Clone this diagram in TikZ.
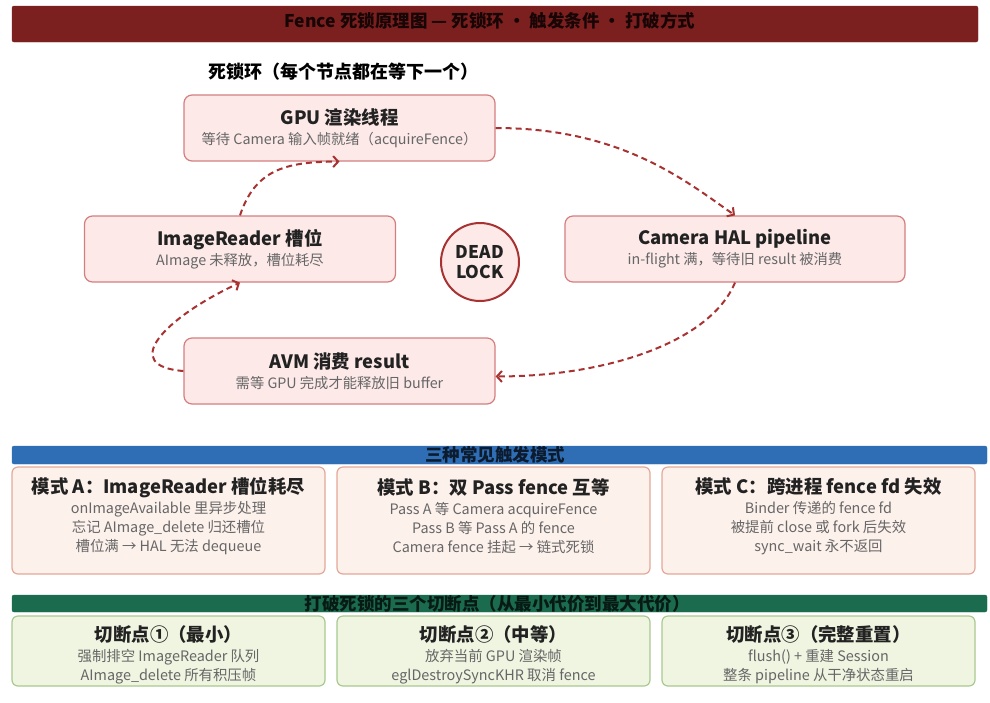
\documentclass[tikz,border=0pt]{standalone}
\usepackage{fontspec}
\setmainfont{Noto Sans CJK SC}
\usepackage{tikz}
\usetikzlibrary{arrows.meta}

\definecolor{bandred}{HTML}{7B1F1F}
\definecolor{bandblue}{HTML}{2F6DB5}
\definecolor{bandgreen}{HTML}{1B6B4F}
\definecolor{lockred}{HTML}{A83232}
\definecolor{pinkfill}{HTML}{FCE9E8}
\definecolor{pinkline}{HTML}{D47F7F}
\definecolor{peachfill}{HTML}{FDF1EC}
\definecolor{peachline}{HTML}{E3A898}
\definecolor{greenfill}{HTML}{EFF5E1}
\definecolor{greenline}{HTML}{A9C98F}
\definecolor{subgray}{HTML}{666666}
\definecolor{darktxt}{HTML}{222222}

\begin{document}
\begin{tikzpicture}[x=1pt, y=-1pt,
    band/.style={rounded corners=2pt, inner sep=0pt},
    bandtxt/.style={font=\fontsize{17.5}{20}\selectfont\bfseries},
    ringbox/.style={draw=pinkline, fill=pinkfill, line width=1.2pt, rounded corners=8pt,
        minimum width=311pt, minimum height=66pt, align=center, text=subgray,
        font=\fontsize{14.3}{18}\selectfont},
    modebox/.style={draw=peachline, fill=peachfill, line width=1.2pt, rounded corners=6pt,
        minimum width=313pt, minimum height=107pt},
    cutbox/.style={draw=greenline, fill=greenfill, line width=1.2pt, rounded corners=6pt,
        minimum width=313pt, minimum height=70pt},
    boxtxt/.style={align=center, text=subgray, inner sep=0pt,
        font=\fontsize{14.4}{19}\selectfont},
    waitarrow/.style={draw=lockred, line width=2pt, dash pattern=on 6pt off 4pt,
        -{Straight Barb[length=5pt, width=11pt]}}]
    \path[use as bounding box] (0,0) rectangle (990,702);

    % Title
    \filldraw[band, fill=bandred, draw=bandred] (12,6) rectangle (978,42);
    \node[bandtxt, text=black!80!bandred] (title) at (490,21)
        {Fence 死锁原理图 — 死锁环 · 触发条件 · 打破方式};

    % Deadlock ring
    \node[anchor=west, font=\fontsize{18}{20}\selectfont\bfseries] (ringhead) at (205,72)
        {死锁环（每个节点都在等下一个）};

    \node[ringbox] (gpu) at (339.5,128)
        {{\color{darktxt}\fontsize{18.4}{20}\selectfont\bfseries GPU 渲染线程}\\[2pt]
         等待 Camera 输入帧就绪（acquireFence）};
    \node[ringbox] (imgr) at (240,249)
        {{\color{darktxt}\fontsize{18.4}{20}\selectfont\bfseries ImageReader 槽位}\\[2pt]
         AImage 未释放，槽位耗尽};
    \node[ringbox, minimum width=340pt] (hal) at (735,249)
        {{\color{darktxt}\fontsize{18.4}{20}\selectfont\bfseries Camera HAL pipeline}\\[2pt]
         in-flight 满，等待旧 result 被消费};
    \node[ringbox] (avm) at (339.5,371)
        {{\color{darktxt}\fontsize{18.4}{20}\selectfont\bfseries AVM 消费 result}\\[2pt]
         需等 GPU 完成才能释放旧 buffer};

    \node[circle, draw=lockred, fill=pinkfill, line width=2pt, minimum size=78pt,
        inner sep=0pt, align=center, text=darktxt,
        font=\fontsize{17.5}{20}\selectfont\bfseries] (dead) at (480,262) {DEAD\\LOCK};

    % Wait-for arrows
    \draw[waitarrow] (gpu.east) .. controls +(125,0) and +(-50,-35) .. (hal.north);
    \draw[waitarrow] (hal.south) .. controls +(-25,60) and +(110,0) .. (avm.-2);
    \draw[waitarrow] (avm.west) .. controls +(-65,-5) and +(-75,35) .. (imgr.south);
    \draw[waitarrow] (imgr.north) .. controls +(15,-45) and +(-55,0) .. (gpu.south);

    % Trigger modes
    \filldraw[band, fill=bandblue, draw=bandblue] (12,446) rectangle (987,464);
    \node[bandtxt, text=black!75!bandblue] (modehead) at (495,455) {三种常见触发模式};

    \node[modebox] (ma) at (168.5,520.5) {};
    \node[modebox] (mb) at (493.5,520.5) {};
    \node[modebox] (mc) at (818.5,520.5) {};
    \node[boxtxt] (ma-txt) at (168.5,516)
        {{\color{darktxt}\fontsize{18.4}{22}\selectfont\bfseries 模式 A：ImageReader 槽位耗尽}\\[1pt]
         onImageAvailable 里异步处理\\
         忘记 AImage\_delete 归还槽位\\
         槽位满 → HAL 无法 dequeue};
    \node[boxtxt] (mb-txt) at (493.5,516)
        {{\color{darktxt}\fontsize{18.4}{22}\selectfont\bfseries 模式 B：双 Pass fence 互等}\\[1pt]
         Pass A 等 Camera acquireFence\\
         Pass B 等 Pass A 的 fence\\
         Camera fence 挂起 → 链式死锁};
    \node[boxtxt] (mc-txt) at (818.5,516)
        {{\color{darktxt}\fontsize{18.4}{22}\selectfont\bfseries 模式 C：跨进程 fence fd 失效}\\[1pt]
         Binder 传递的 fence fd\\
         被提前 close 或 fork 后失效\\
         sync\_wait 永不返回};

    % Break points
    \filldraw[band, fill=bandgreen, draw=bandgreen] (12,595) rectangle (987,612);
    \node[bandtxt, text=black!75!bandgreen] (cuthead) at (497,603.5)
        {打破死锁的三个切断点（从最小代价到最大代价）};

    \node[cutbox] (c1) at (168.5,651) {};
    \node[cutbox] (c2) at (493.5,651) {};
    \node[cutbox] (c3) at (818.5,651) {};
    \node[boxtxt] (c1-txt) at (168.5,655)
        {{\color{darktxt}\fontsize{18.4}{20}\selectfont\bfseries 切断点①（最小）}\\[1pt]
         强制排空 ImageReader 队列\\
         AImage\_delete 所有积压帧};
    \node[boxtxt] (c2-txt) at (493.5,655)
        {{\color{darktxt}\fontsize{18.4}{20}\selectfont\bfseries 切断点②（中等）}\\[1pt]
         放弃当前 GPU 渲染帧\\
         eglDestroySyncKHR 取消 fence};
    \node[boxtxt] (c3-txt) at (818.5,655)
        {{\color{darktxt}\fontsize{18.4}{20}\selectfont\bfseries 切断点③（完整重置）}\\[1pt]
         flush() + 重建 Session\\
         整条 pipeline 从干净状态重启};
\end{tikzpicture}
\end{document}
